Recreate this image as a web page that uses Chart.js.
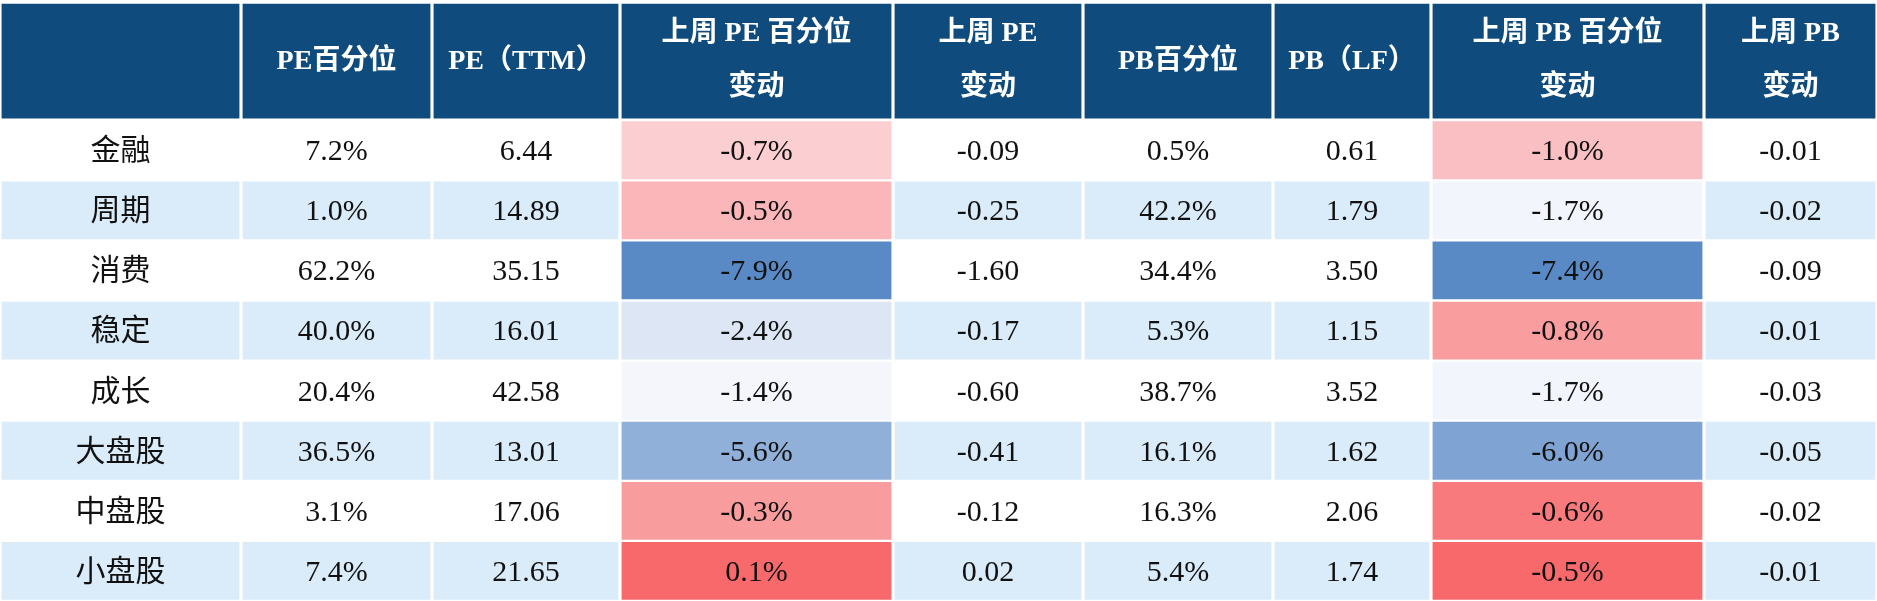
<!DOCTYPE html>
<html>
<head>
<meta charset="utf-8">
<script src="https://cdn.jsdelivr.net/npm/chart.js@4"></script>
<style>
  body { margin: 0; background: #fff; }
  #wrap { width: 1877px; height: 601px; position: relative; }
</style>
</head>
<body>
<div id="wrap"><canvas id="tableChart"></canvas></div>
<script>
// table values
const sectors = ['金融', '周期', '消费', '稳定', '成长', '大盘股', '中盘股', '小盘股'];
const pePct = [7.2, 1.0, 62.2, 40.0, 20.4, 36.5, 3.1, 7.4];
const peTtm = [6.44, 14.89, 35.15, 16.01, 42.58, 13.01, 17.06, 21.65];
const pePctChg = [-0.7, -0.5, -7.9, -2.4, -1.4, -5.6, -0.3, 0.1];
const peChg = [-0.09, -0.25, -1.60, -0.17, -0.60, -0.41, -0.12, 0.02];
const pbPct = [0.5, 42.2, 34.4, 5.3, 38.7, 16.1, 16.3, 5.4];
const pbLf = [0.61, 1.79, 3.50, 1.15, 3.52, 1.62, 2.06, 1.74];
const pbPctChg = [-1.0, -1.7, -7.4, -0.8, -1.7, -6.0, -0.6, -0.5];
const pbChg = [-0.01, -0.02, -0.09, -0.01, -0.03, -0.05, -0.02, -0.01];

const headers = [
    [''],
    ['PE百分位'],
    ['PE（TTM）'],
    ['上周 PE 百分位', '变动'],
    ['上周 PE', '变动'],
    ['PB百分位'],
    ['PB（LF）'],
    ['上周 PB 百分位', '变动'],
    ['上周 PB', '变动']
];

// column edges in pixels (layout only)
const colEdges = [0, 241, 432, 620, 893, 1083, 1273, 1431, 1704, 1877];

const pct = v => v.toFixed(1) + '%';
const num = v => v.toFixed(2);

const columns = [
    { text: sectors, heat: null },
    { text: pePct.map(pct), heat: null },
    { text: peTtm.map(num), heat: null },
    { text: pePctChg.map(pct), heat: pePctChg },
    { text: peChg.map(num), heat: null },
    { text: pbPct.map(pct), heat: null },
    { text: pbLf.map(num), heat: null },
    { text: pbPctChg.map(pct), heat: pbPctChg },
    { text: pbChg.map(num), heat: null }
];

// excel style 3 colour scale: blue (min) -> white (median) -> red (max)
function heatColor(values, v) {
    const s = [...values].sort((a, b) => a - b);
    const mid = (s[3] + s[4]) / 2;
    const lo = [90, 138, 198], wh = [252, 252, 255], hi = [248, 105, 107];
    let t, c;
    if (v >= mid) { t = (v - mid) / (s[7] - mid || 1); c = hi; }
    else { t = (mid - v) / (mid - s[0] || 1); c = lo; }
    const mix = wh.map((w, i) => Math.round(w + (c[i] - w) * t));
    return 'rgb(' + mix.join(',') + ')';
}

const HEADER_BG = '#0f4c7d';
const rowLabels = ['h1', 'h2', ...sectors];

const datasets = columns.map((col, c) => ({
    data: rowLabels.map(() => [colEdges[c] + 1.5, colEdges[c + 1] - 1.5]),
    backgroundColor: rowLabels.map((_, r) => {
        if (r < 2) return HEADER_BG;
        const i = r - 2;
        if (col.heat) return heatColor(col.heat, col.heat[i]);
        return i % 2 === 1 ? '#daebf9' : '#ffffff';
    }),
    borderColor: '#ffffff',
    borderSkipped: false,
    borderWidth: ctx => {
        const r = ctx.dataIndex;
        if (r === 0) return { top: 4, bottom: 0, left: 0, right: 0 };
        if (r === 1) return { top: 0, bottom: 2, left: 0, right: 0 };
        return { top: 1.5, bottom: 1.5, left: 0, right: 0 };
    },
    grouped: false,
    barPercentage: 1,
    categoryPercentage: 1
}));

const cellText = {
    id: 'cellText',
    afterDatasetsDraw(chart) {
        const c = chart.ctx;
        c.save();
        c.textAlign = 'center';
        c.textBaseline = 'middle';
        const yScale = chart.scales.y;
        const step = yScale.getPixelForValue(1) - yScale.getPixelForValue(0);
        columns.forEach((col, ci) => {
            const bars = chart.getDatasetMeta(ci).data;
            const cx = (bars[0].x + bars[0].base) / 2;
            // header, spans two category slots
            const hTop = bars[0].y - step / 2;
            const hMid = hTop + step;
            const lines = headers[ci];
            c.fillStyle = '#ffffff';
            c.font = 'bold 28px "Liberation Serif", "Noto Sans CJK SC"';
            if (lines.length === 1) {
                c.fillText(lines[0], cx, hMid + 2);
            } else {
                c.fillText(lines[0], cx, hTop + 34);
                c.fillText(lines[1], cx, hTop + 88);
            }
            c.fillStyle = '#111111';
            c.font = '30px "Liberation Serif", "Noto Sans CJK SC"';
            col.text.forEach((t, i) => {
                c.fillText(t, cx, bars[i + 2].y + 2);
            });
        });
        c.restore();
    }
};

new Chart(document.getElementById('tableChart'), {
    type: 'bar',
    data: { labels: rowLabels, datasets: datasets },
    options: {
        indexAxis: 'y',
        responsive: true,
        maintainAspectRatio: false,
        animation: false,
        layout: { padding: 0 },
        plugins: { legend: { display: false }, tooltip: { enabled: false } },
        scales: {
            x: { type: 'linear', min: 0, max: 1877, display: false },
            y: { display: false, offset: true }
        }
    },
    plugins: [cellText]
});
</script>
</body>
</html>
